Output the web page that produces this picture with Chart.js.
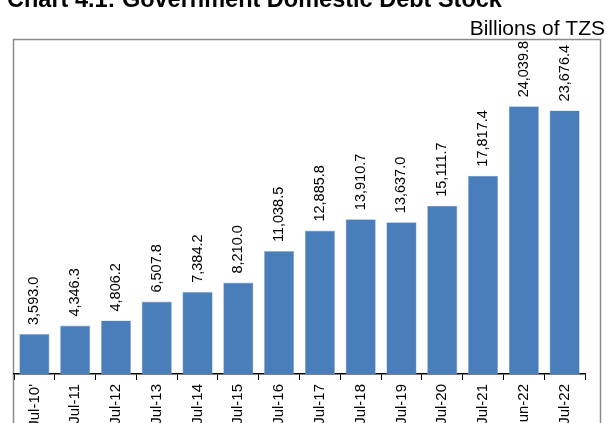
<!DOCTYPE html>
<html>
<head>
<meta charset="utf-8">
<script src="https://cdn.jsdelivr.net/npm/chart.js@4/dist/chart.umd.min.js"></script>
<style>
    html, body { margin: 0; padding: 0; background: #fff; overflow: hidden; }
    canvas { display: block; }
</style>
</head>
<body>
<canvas id="graficoDeuda" width="607" height="423"></canvas>
<script>
const periodos = ["Jul-10'", "Jul-11", "Jul-12", "Jul-13", "Jul-14", "Jul-15", "Jul-16",
                  "Jul-17", "Jul-18", "Jul-19", "Jul-20", "Jul-21", "Jun-22", "Jul-22"];
const deuda = [3593.0, 4346.3, 4806.2, 6507.8, 7384.2, 8210.0, 11038.5,
               12885.8, 13910.7, 13637.0, 15111.7, 17817.4, 24039.8, 23676.4];
const titulo = "Chart 4.1: Government Domestic Debt Stock";
const unidad = "Billions of TZS";

const FUENTE = "'Liberation Sans', Arial, sans-serif";

// marco gris, titulo y unidad
const marco = {
    id: "marco",
    beforeDraw(chart) {
        const ctx = chart.ctx;
        ctx.save();
        ctx.fillStyle = "#fff";
        ctx.fillRect(0, 0, chart.width, chart.height);
        ctx.fillStyle = "#000";
        ctx.font = "bold 23.5px " + FUENTE;
        ctx.textAlign = "left";
        ctx.textBaseline = "alphabetic";
        ctx.fillText(titulo, 7, 7);

        ctx.font = "21px " + FUENTE;
        ctx.textAlign = "right";
        ctx.fillText(unidad, 605, 35);

        ctx.strokeStyle = "#8c8c8c";
        ctx.lineWidth = 1.5;
        ctx.strokeRect(13.5, 39.5, 587, 420);
        ctx.restore();
    }
};

// etiquetas de valor giradas encima de cada barra
const etiquetas = {
    id: "etiquetas",
    afterDatasetsDraw(chart) {
        const ctx = chart.ctx;
        const meta = chart.getDatasetMeta(0);
        ctx.save();
        ctx.fillStyle = "#000";
        ctx.font = "14.5px " + FUENTE;
        ctx.textAlign = "left";
        ctx.textBaseline = "middle";
        meta.data.forEach((bar, i) => {
            const texto = deuda[i].toLocaleString("en-US", { minimumFractionDigits: 1, maximumFractionDigits: 1 });
            ctx.save();
            ctx.translate(bar.x, bar.y - 9);
            ctx.rotate(-Math.PI / 2);
            ctx.fillText(texto, 0, 0);
            ctx.restore();
        });
        ctx.restore();
    }
};

new Chart(document.getElementById("graficoDeuda"), {
    type: "bar",
    data: {
        labels: periodos,
        datasets: [{
            data: deuda,
            backgroundColor: "#4a7ebb",
            borderColor: "#8fb0d8",
            borderWidth: 0.6,
            barPercentage: 0.74,
            categoryPercentage: 1
        }]
    },
    options: {
        responsive: false,
        animation: false,
        devicePixelRatio: 1,
        layout: { padding: { left: 14, right: 22, top: 40, bottom: 0 } },
        plugins: {
            legend: { display: false },
            tooltip: { enabled: false }
        },
        scales: {
            x: {
                offset: true,
                grid: {
                    offset: true,
                    drawOnChartArea: false,
                    tickLength: 6,
                    color: "#000"
                },
                border: { color: "#000", width: 1.5 },
                ticks: {
                    color: "#000",
                    font: { family: FUENTE, size: 15 },
                    minRotation: 90,
                    maxRotation: 90,
                    padding: 4,
                    autoSkip: false
                },
                afterFit(scale) { scale.height = 49; }
            },
            y: {
                display: false,
                min: 0,
                max: 30000
            }
        }
    },
    plugins: [marco, etiquetas]
});
</script>
</body>
</html>
